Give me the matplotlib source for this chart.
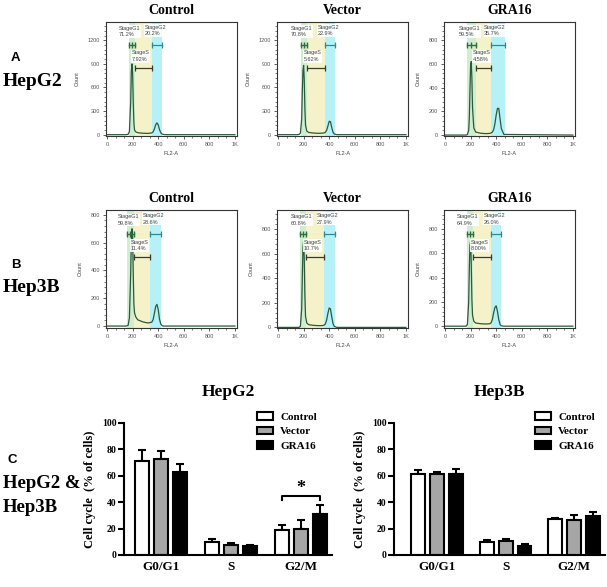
import numpy as np
import matplotlib.pyplot as plt
from matplotlib.ticker import AutoMinorLocator

plt.rcParams['font.family'] = 'Liberation Serif'

W, H = 607, 587

# ---- flow cytometry histograms (FL2-A vs Count)
hist_x = [0, 150, 165, 175, 185, 190, 195, 200, 205, 210, 215, 225, 240, 280,
          320, 350, 360, 370, 380, 390, 400, 410, 420, 430, 440, 460, 1000]

hepg2_control_counts = [0, 0, 5, 40, 420, 800, 900, 780, 420, 150, 60, 35, 25, 18,
                        16, 22, 35, 70, 125, 150, 125, 65, 25, 8, 3, 0, 0]
hepg2_vector_counts = [0, 0, 3, 20, 200, 560, 820, 880, 700, 330, 120, 45, 28, 20,
                       17, 20, 22, 30, 55, 110, 170, 165, 90, 30, 8, 0, 0]
hepg2_gra16_counts = [0, 0, 0, 5, 40, 150, 380, 580, 620, 480, 230, 60, 25, 15,
                      12, 14, 18, 25, 45, 95, 170, 225, 225, 140, 55, 5, 0]
hep3b_control_counts = [0, 0, 5, 60, 380, 620, 700, 640, 380, 160, 95, 65, 45, 30,
                        22, 28, 45, 90, 140, 156, 120, 50, 15, 3, 0, 0, 0]
hep3b_vector_counts = [0, 0, 0, 10, 150, 420, 650, 700, 560, 260, 90, 35, 22, 16,
                       14, 15, 18, 28, 60, 115, 158, 150, 85, 30, 8, 0, 0]
hep3b_gra16_counts = [0, 0, 0, 15, 200, 480, 670, 700, 520, 220, 90, 40, 26, 20,
                      18, 20, 28, 55, 110, 155, 168, 120, 55, 15, 3, 0, 0]

flow_titles = ["Control", "Vector", "GRA16"]

# gates: (G1 start, G1 end / S start, S end / G2 start, G2 end)
hepg2_gates = [(168, 215, 350, 430), (178, 225, 366, 444), (171, 239, 361, 470)]
hep3b_gates = [(155, 208, 334, 422), (175, 222, 361, 444), (171, 220, 356, 437)]

hepg2_pct = [("71.2%", "7.92%", "20.2%"), ("70.8%", "5.62%", "22.9%"), ("59.5%", "4.58%", "35.7%")]
hep3b_pct = [("59.8%", "11.4%", "28.6%"), ("60.8%", "10.7%", "27.9%"), ("64.9%", "8.00%", "26.0%")]

hepg2_yticks = [[0, 300, 600, 900, 1200], [0, 300, 600, 900, 1200], [0, 200, 400, 600, 800]]
hepg2_ylims = [(-17, 1432), (-17, 1432), (-8, 954)]
hep3b_yticks = [[0, 200, 400, 600, 800]] * 3
hep3b_ylims = [(-14, 835), (-5, 955), (-15, 958)]

fl_ticks = [0, 200, 400, 600, 800, 1000]
fl_ticklabels = ["0", "200", "400", "600", "800", "1K"]

# ---- bar chart data (% of cells)
phases = ["G0/G1", "S", "G2/M"]
groups = ["Control", "Vector", "GRA16"]
hepg2_means = [[71.5, 9.5, 18.6], [72.5, 7.8, 19.6], [63.0, 6.5, 31.0]]
hepg2_errs = [[7.8, 2.8, 4.4], [6.0, 1.2, 6.8], [5.6, 1.0, 6.6]]
hep3b_means = [[61.6, 9.6, 27.3], [61.4, 10.9, 26.8], [61.4, 6.6, 29.3]]
hep3b_errs = [[2.8, 1.8, 1.0], [1.2, 1.2, 3.2], [3.8, 1.5, 3.5]]

fig = plt.figure(figsize=(W / 100, H / 100), dpi=100)


def px_axes(l, t, r, b):
    return fig.add_axes([l / W, 1 - b / H, (r - l) / W, (b - t) / H])


def draw_flow(ax, counts, gates, pct, yticks, ylim, title):
    g1a, g1b, s_end, g2_end = gates
    ax.axvspan(g1b, s_end, color='#f5f1c8', lw=0, zorder=0)
    ax.axvspan(s_end, g2_end, color='#b6f1f7', lw=0, zorder=0)
    ax.axvspan(g1a, g1b, color='#cfeecf', lw=0, zorder=0)
    ax.plot(hist_x, counts, color='#2b5a3a', lw=0.9, zorder=2)

    tr = ax.get_xaxis_transform()
    ax.plot([g1a, (g1a + g1b) / 2, g1b], [0.80] * 3, color='#2d6e3e', lw=1.0,
            marker='|', ms=4, mew=1.0, transform=tr, zorder=4)
    ax.plot([s_end, g2_end], [0.80] * 2, color='#2a8a9a', lw=0.9,
            marker='|', ms=4, mew=0.9, transform=tr, zorder=4)
    ax.plot([g1b, s_end], [0.60] * 2, color='#3a3a2a', lw=0.9,
            marker='|', ms=4, mew=0.9, transform=tr, zorder=4)

    lab = dict(fontsize=4, color='#444444', family='Liberation Sans', transform=tr,
               ha='left', va='center', linespacing=1.4, zorder=3,
               bbox=dict(facecolor='white', edgecolor='none', pad=0.4, alpha=0.9))
    ax.text((g1a + g1b) / 2 - 100, 0.915, "StageG1\n" + pct[0], **lab)
    ax.text(s_end - 55, 0.925, "StageG2\n" + pct[2], **lab)
    ax.text(g1b - 22, 0.70, "StageS\n" + pct[1], **lab)

    ax.set_xlim(-8, 1016)
    ax.set_ylim(*ylim)
    ax.set_xticks(fl_ticks)
    ax.set_xticklabels(fl_ticklabels)
    ax.set_yticks(yticks)
    ax.xaxis.set_minor_locator(AutoMinorLocator(3))
    ax.yaxis.set_minor_locator(AutoMinorLocator(5))
    ax.tick_params(which='major', length=2.2, width=0.6, labelsize=4, pad=2,
                   colors='#444444', labelcolor='#555555')
    ax.tick_params(which='minor', length=1.2, width=0.5, colors='#444444')
    for lbl in ax.get_xticklabels() + ax.get_yticklabels():
        lbl.set_family('Liberation Sans')
    for sp in ax.spines.values():
        sp.set_linewidth(0.8)
        sp.set_color('#333333')
    ax.set_xlabel("FL2-A", fontsize=4, family='Liberation Sans', color='#444444', labelpad=3)
    ax.set_ylabel("Count", fontsize=4, family='Liberation Sans', color='#444444', labelpad=6)
    ax.annotate(title, xy=(0.5, 1), xycoords='axes fraction', xytext=(0, 8.5),
                textcoords='offset points', ha='center', va='center',
                fontsize=10, fontweight='bold')


flow_x = [(106, 237), (277, 408), (444, 575)]
hepg2_counts = [hepg2_control_counts, hepg2_vector_counts, hepg2_gra16_counts]
hep3b_counts = [hep3b_control_counts, hep3b_vector_counts, hep3b_gra16_counts]
for i in range(3):
    l, r = flow_x[i]
    ax = px_axes(l, 22, r, 136)
    draw_flow(ax, hepg2_counts[i], hepg2_gates[i], hepg2_pct[i],
              hepg2_yticks[i], hepg2_ylims[i], flow_titles[i])
    ax = px_axes(l, 210, r, 328)
    draw_flow(ax, hep3b_counts[i], hep3b_gates[i], hep3b_pct[i],
              hep3b_yticks[i], hep3b_ylims[i], flow_titles[i])


def draw_bars(ax, means, errs, width, offset, xlim, title, legend_px):
    x = np.arange(len(phases))
    colors = ['white', '#a6a6a6', 'black']
    bars = []
    for i in range(3):
        pos = x + (i - 1) * offset
        b = ax.bar(pos, means[i], width, color=colors[i], edgecolor='black',
                   linewidth=1.5, label=groups[i], zorder=2)
        ax.errorbar(pos, means[i], yerr=[np.zeros(3), errs[i]], fmt='none',
                    ecolor='black', elinewidth=1.5, capsize=3, capthick=1.5, zorder=1)
        bars.append(b)
    ax.set_xlim(*xlim)
    ax.set_ylim(0, 100)
    ax.set_yticks([0, 20, 40, 60, 80, 100])
    ax.set_xticks(x)
    ax.set_xticklabels(phases, fontsize=9.5, fontweight='bold')
    for lbl in ax.get_yticklabels():
        lbl.set_fontweight('bold')
    ax.tick_params(axis='y', length=4, width=1.5, labelsize=7, pad=1.5)
    ax.tick_params(axis='x', length=0, pad=4)
    for s in ['top', 'right']:
        ax.spines[s].set_visible(False)
    for s in ['left', 'bottom']:
        ax.spines[s].set_linewidth(1.5)
    ax.set_ylabel("Cell cycle  (% of cells)", fontsize=9, fontweight='bold', labelpad=4)
    ax.annotate(title, xy=(0.5, 1), xycoords='axes fraction', xytext=(0, 22.5),
                textcoords='offset points', ha='center', va='center',
                fontsize=12.5, fontweight='bold')
    ax.legend(handles=bars, loc='upper left',
              bbox_to_anchor=(legend_px[0] / W, 1 - legend_px[1] / H),
              bbox_transform=fig.transFigure, frameon=False, borderpad=0,
              borderaxespad=0, handlelength=1.45, handleheight=0.72,
              handletextpad=0.65, labelspacing=0.42,
              prop={'family': 'Liberation Serif', 'weight': 'bold', 'size': 8})
    return x


ax1 = px_axes(124, 423, 332, 555)
x1 = draw_bars(ax1, hepg2_means, hepg2_errs, 0.2, 0.27, (-0.53, 2.44), "HepG2", (257, 412))
# significance bracket Control vs GRA16 in G2/M
ax1.plot([2 - 0.27, 2 - 0.27, 2 + 0.27, 2 + 0.27], [41.7, 44.7, 44.7, 41.7],
         color='black', lw=1.5)
ax1.text(2, 44.0, "*", ha='center', va='bottom', fontsize=13, fontweight='bold')

ax2 = px_axes(394, 423, 605, 555)
draw_bars(ax2, hep3b_means, hep3b_errs, 0.2, 0.277, (-0.63, 2.45), "Hep3B", (535, 412))

# panel labels
fig.text(11 / W, 1 - 58 / H, "A", family='Liberation Sans', fontweight='bold',
         fontsize=9.5, ha='left', va='center')
fig.text(3 / W, 1 - 82 / H, "HepG2", fontweight='bold', fontsize=14, ha='left', va='center')
fig.text(11 / W, 1 - 265 / H, "B", family='Liberation Sans', fontweight='bold',
         fontsize=9.5, ha='left', va='center')
fig.text(3 / W, 1 - 288 / H, "Hep3B", fontweight='bold', fontsize=14, ha='left', va='center')
fig.text(8 / W, 1 - 460 / H, "C", family='Liberation Sans', fontweight='bold',
         fontsize=9.5, ha='left', va='center')
fig.text(3 / W, 1 - 484 / H, "HepG2 &", fontweight='bold', fontsize=13.5, ha='left', va='center')
fig.text(3 / W, 1 - 507 / H, "Hep3B", fontweight='bold', fontsize=13.5, ha='left', va='center')

fig.savefig("out.png", dpi=100)
